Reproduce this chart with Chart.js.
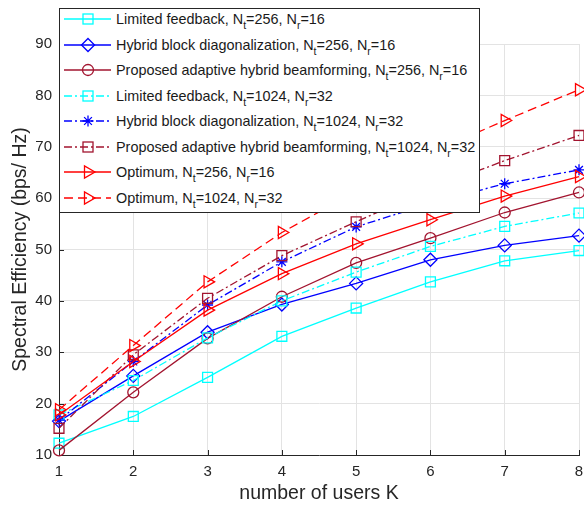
<!DOCTYPE html>
<html><head><meta charset="utf-8">
<script src="https://cdn.jsdelivr.net/npm/chart.js@4.4.0/dist/chart.umd.min.js"></script>
<style>
html,body{margin:0;padding:0;background:#fff;overflow:hidden;}
#wrap{position:relative;width:584px;height:506px;}
#legend{position:absolute;left:59px;top:8px;width:421px;height:205px;border:1px solid #262626;background:#fff;box-sizing:border-box;font-family:"Liberation Sans",Arial,Helvetica,sans-serif;font-size:14.4px;color:#1a1a1a;}
.row{position:absolute;left:0;height:24px;white-space:nowrap;}
.row svg{position:absolute;left:0;top:0;}
.row span{position:absolute;left:56px;top:3px;line-height:18px;}
sub{font-size:10.5px;vertical-align:-5px;line-height:0;}
</style></head>
<body>
<div id="wrap">
<canvas id="c" width="584" height="506"></canvas>
<div id="legend"></div>
</div>
<script>
// ---- data ----
const categories = ['1','2','3','4','5','6','7','8'];
const lf256    = [12.3, 17.5, 25.1, 33.1, 38.6, 43.7, 47.8, 49.8];
const hbd256   = [16.6, 25.4, 33.9, 39.3, 43.4, 48.0, 50.8, 52.7];
const prop256  = [10.9, 22.2, 32.7, 40.8, 47.4, 52.2, 57.2, 61.1];
const lf1024   = [17.8, 24.5, 32.8, 40.0, 45.6, 50.6, 54.5, 57.1];
const hbd1024  = [16.8, 28.2, 39.2, 47.6, 54.4, 59.0, 62.8, 65.5];
const prop1024 = [15.2, 29.5, 40.5, 48.8, 55.4, 61.8, 67.3, 72.2];
const opt256   = [17.8, 28.2, 38.2, 45.3, 51.1, 55.8, 60.4, 64.2];
const opt1024  = [18.8, 31.3, 43.7, 53.3, 61.3, 68.8, 75.1, 81.1];
const yTicks = [10, 20, 30, 40, 50, 60, 70, 80, 90];
const seriesNames = [
  'Limited feedback, N<sub>t</sub>=256, N<sub>r</sub>=16',
  'Hybrid block diagonalization, N<sub>t</sub>=256, N<sub>r</sub>=16',
  'Proposed adaptive hybrid beamforming, N<sub>t</sub>=256, N<sub>r</sub>=16',
  'Limited feedback, N<sub>t</sub>=1024, N<sub>r</sub>=32',
  'Hybrid block diagonalization, N<sub>t</sub>=1024, N<sub>r</sub>=32',
  'Proposed adaptive hybrid beamforming, N<sub>t</sub>=1024, N<sub>r</sub>=32',
  'Optimum, N<sub>t</sub>=256, N<sub>r</sub>=16',
  'Optimum, N<sub>t</sub>=1024, N<sub>r</sub>=32'
];
const seriesData = [lf256, hbd256, prop256, lf1024, hbd1024, prop1024, opt256, opt1024];

// ---- styles ----
const CYAN = '#00ffff', BLUE = '#0000ff', DRED = '#a2142f', RED = '#ff0000';
const DASHDOT = [8, 3, 2, 3], DASHED = [9, 5];
const styles = [
  {c: CYAN, dash: [], m: 'rect', r: 7, rot: 0},
  {c: BLUE, dash: [], m: 'rectRot', r: 6.5, rot: 0},
  {c: DRED, dash: [], m: 'circle', r: 5.5, rot: 0},
  {c: CYAN, dash: DASHDOT, m: 'rect', r: 7, rot: 0},
  {c: BLUE, dash: DASHDOT, m: 'star', r: 5.5, rot: 0},
  {c: DRED, dash: DASHDOT, m: 'rect', r: 7, rot: 0},
  {c: RED, dash: [], m: 'triangle', r: 7, rot: 90},
  {c: RED, dash: DASHED, m: 'triangle', r: 7, rot: 90}
];

const datasets = seriesData.map((d, i) => ({
  label: seriesNames[i].replace(/<\/?sub>/g, ''),
  data: d,
  borderColor: styles[i].c,
  backgroundColor: 'rgba(0,0,0,0)',
  borderWidth: 1.3,
  borderDash: styles[i].dash,
  pointStyle: styles[i].m,
  pointRadius: styles[i].r,
  pointRotation: styles[i].rot,
  pointBorderColor: styles[i].c,
  pointBackgroundColor: 'rgba(0,0,0,0)',
  pointBorderWidth: 1.3,
  tension: 0,
  fill: false,
  clip: false,
  order: 7 - i
}));

const inwardTicks = {
  id: 'inwardTicks',
  beforeDatasetsDraw(chart) {
    const ctx = chart.ctx, a = chart.chartArea;
    const xs = chart.scales.x, ys = chart.scales.y;
    ctx.save();
    ctx.strokeStyle = '#262626';
    ctx.lineWidth = 1;
    ctx.beginPath();
    categories.forEach((c, i) => {
      const px = Math.round(xs.getPixelForValue(i)) + 0.5;
      ctx.moveTo(px, a.bottom); ctx.lineTo(px, a.bottom - 5);
    });
    yTicks.forEach(v => {
      const py = Math.round(ys.getPixelForValue(v)) + 0.5;
      ctx.moveTo(a.left, py); ctx.lineTo(a.left + 5, py);
    });
    ctx.stroke();
    ctx.restore();
  }
};

const FONT = '"Liberation Sans", Arial, Helvetica, sans-serif';
new Chart(document.getElementById('c'), {
  type: 'line',
  data: {labels: categories, datasets},
  options: {
    responsive: false,
    animation: false,
    devicePixelRatio: 1,
    layout: {autoPadding: false, padding: {top: 44, right: 5, left: 0, bottom: 0}},
    plugins: {legend: {display: false}, tooltip: {enabled: false}},
    scales: {
      x: {
        type: 'category',
        offset: false,
        grid: {color: '#e3e3e3', drawTicks: true, tickLength: 8, tickColor: 'rgba(0,0,0,0)', lineWidth: 1},
        border: {color: '#262626', width: 1},
        ticks: {color: '#262626', font: {family: FONT, size: 15}, padding: 0, maxRotation: 0},
        title: {display: true, text: 'number of users K', color: '#262626', font: {family: FONT, size: 19.5}, padding: {top: 0, bottom: 1}},
        afterFit(s) { s.height = 51; }
      },
      y: {
        type: 'linear',
        min: 10, max: 90,
        afterBuildTicks(s) { s.ticks = yTicks.map(v => ({value: v})); },
        grid: {color: '#e3e3e3', drawTicks: false, lineWidth: 1},
        border: {color: '#262626', width: 1},
        ticks: {color: '#262626', font: {family: FONT, size: 15}, padding: 7},
        title: {display: true, text: 'Spectral Efficiency (bps/ Hz)', color: '#262626', font: {family: FONT, size: 19.5}, padding: {top: 9, bottom: 0}},
        afterFit(s) { s.width = 59; }
      }
    }
  },
  plugins: [inwardTicks]
});

// ---- legend (HTML overlay) ----
function markerSVG(st, cx, cy) {
  const c = st.c;
  if (st.m === 'rect') return `<rect x="${cx-5}" y="${cy-5}" width="10" height="10" fill="none" stroke="${c}" stroke-width="1.3"/>`;
  if (st.m === 'rectRot') return `<polygon points="${cx},${cy-6.5} ${cx+6.5},${cy} ${cx},${cy+6.5} ${cx-6.5},${cy}" fill="none" stroke="${c}" stroke-width="1.3"/>`;
  if (st.m === 'circle') return `<circle cx="${cx}" cy="${cy}" r="5.5" fill="none" stroke="${c}" stroke-width="1.3"/>`;
  if (st.m === 'star') { const r = 5.5, d = r * 0.7071;
    return `<path d="M${cx-r} ${cy}H${cx+r}M${cx} ${cy-r}V${cy+r}M${cx-d} ${cy-d}L${cx+d} ${cy+d}M${cx-d} ${cy+d}L${cx+d} ${cy-d}" stroke="${c}" stroke-width="1.3"/>`; }
  if (st.m === 'triangle') return `<polygon points="${cx+7},${cy} ${cx-3.5},${cy-6.1} ${cx-3.5},${cy+6.1}" fill="none" stroke="${c}" stroke-width="1.3"/>`;
  return '';
}
const leg = document.getElementById('legend');
seriesNames.forEach((name, i) => {
  const st = styles[i];
  const cy = 10.3 + i * 25.48;
  const row = document.createElement('div');
  row.className = 'row';
  row.style.top = (cy - 12) + 'px';
  row.style.width = '419px';
  const dash = st.dash.length ? `stroke-dasharray="${st.dash.join(' ')}"` : '';
  row.innerHTML = `<svg width="56" height="24"><line x1="4" y1="12" x2="51" y2="12" stroke="${st.c}" stroke-width="1.3" ${dash}/>${markerSVG(st, 28, 12)}</svg><span>${name}</span>`;
  leg.appendChild(row);
});
</script>
</body></html>
